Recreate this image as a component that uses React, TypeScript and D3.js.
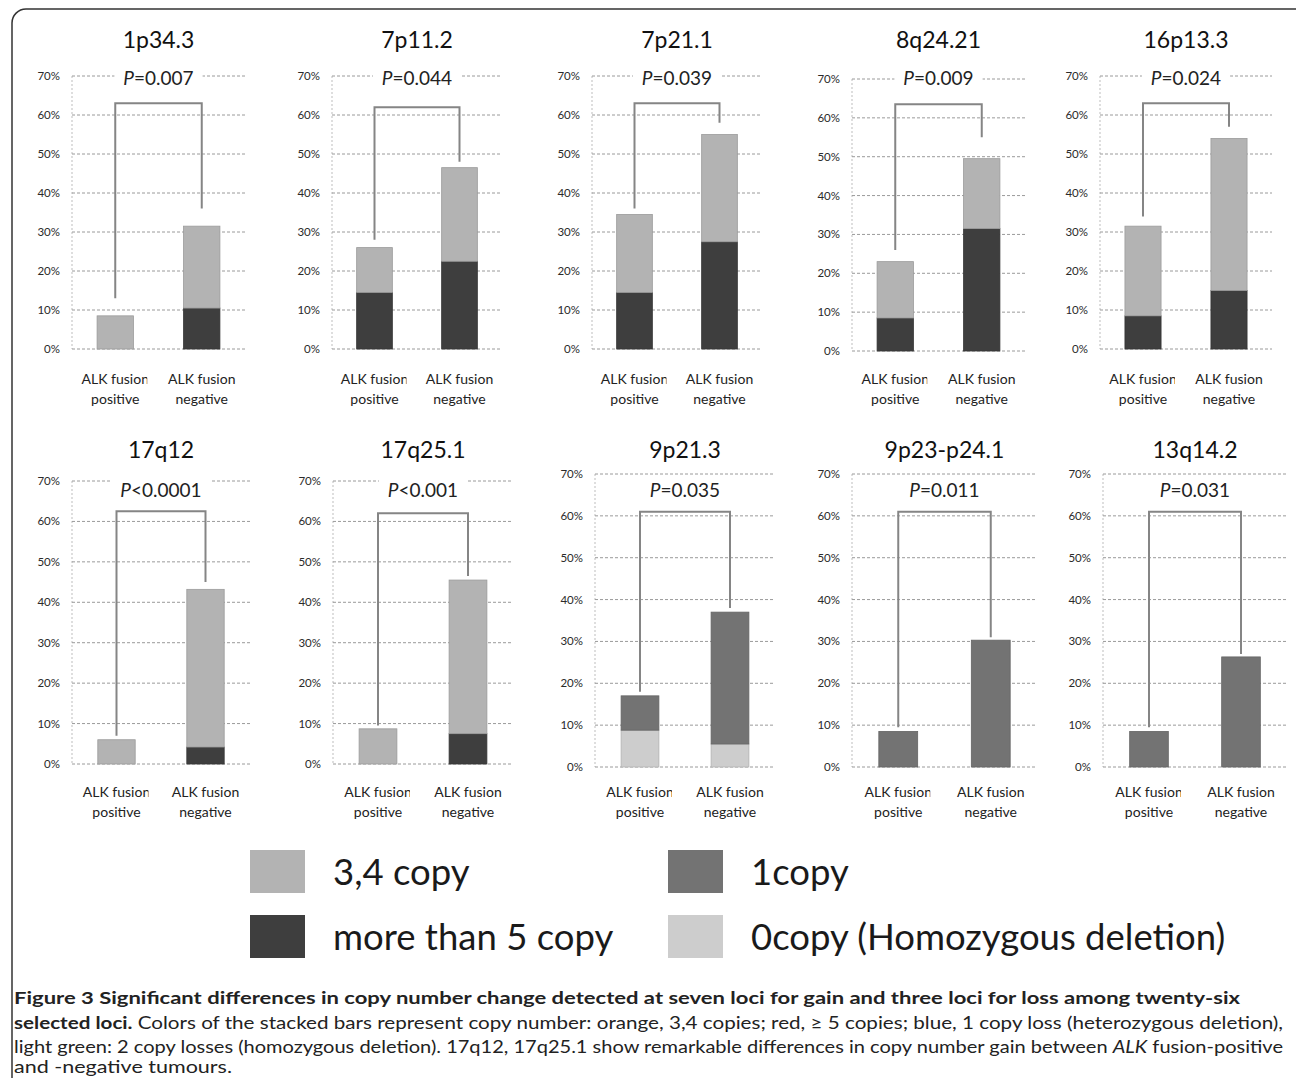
import React from 'react';
import * as d3 from 'd3';

// loci (panel titles) and P values
const loci = ['1p34.3', '7p11.2', '7p21.1', '8q24.21', '16p13.3', '17q12', '17q25.1', '9p21.3', '9p23-p24.1', '13q14.2'];
const pLabels = ['=0.007', '=0.044', '=0.039', '=0.009', '=0.024', '<0.0001', '<0.001', '=0.035', '=0.011', '=0.031'];
const groups = ['positive', 'negative'];
const groupLine1 = ['ALK fusion', 'ALK fusion'];
const yTicks = [0, 10, 20, 30, 40, 50, 60, 70];

// percent of cases per locus
const copy5Pos = [0, 14.5, 14.5, 8.5, 8.5, 0, 0, 0, 0, 0];
const copy5Neg = [10.5, 22.5, 27.5, 31.5, 15, 4.2, 7.5, 0, 0, 0];
const copy34Pos = [8.5, 11.5, 20, 14.5, 23, 6, 8.7, 0, 0, 0];
const copy34Neg = [21, 24, 27.5, 18, 39, 39, 38, 0, 0, 0];
const copy1Pos = [0, 0, 0, 0, 0, 0, 0, 8.2, 8.5, 8.5];
const copy1Neg = [0, 0, 0, 0, 0, 0, 0, 31.5, 30.3, 26.3];
const copy0Pos = [0, 0, 0, 0, 0, 0, 0, 8.8, 0, 0];
const copy0Neg = [0, 0, 0, 0, 0, 0, 0, 5.5, 0, 0];

// significance bracket (left foot, top, right foot) in %
const bracketLeft = [13, 28, 36, 26, 34, 7, 9.5, 18, 9.5, 9.5];
const bracketTop = [63, 62, 63, 63.5, 63, 62.5, 62, 61, 61, 61];
const bracketRight = [36, 48, 58, 55, 57, 45, 46.5, 38, 31, 27];

const legendKeys = ['copy34', 'copy1', 'copy5', 'copy0'];
const legendLabels = ['3,4 copy', '1copy', 'more than 5 copy', '0copy (Homozygous deletion)'];

const colors: Record<string, string> = {
  copy0: '#cdcdcd',
  copy5: '#3e3e3e',
  copy1: '#737373',
  copy34: '#b3b3b3',
};

// panel layout (pixels)
const plotLeft = [72, 332, 592, 852, 1100, 72, 333, 595, 852, 1103];
const plotRight = [245, 502, 762, 1025, 1272, 250, 513, 775, 1037, 1287];
const plotBottom = [349, 349, 349, 351, 349, 764, 764, 767, 767, 767];
const plotTop = [76, 76, 76, 79, 76, 481, 481, 474, 474, 474];

const chartFont = "Lato, 'Open Sans', sans-serif";
const captionFont = "'Liberation Sans Narrow', Lato, sans-serif";

function Panel({ i }: { i: number }) {
  const L = plotLeft[i];
  const R = plotRight[i];
  const top = i < 5;
  const x = d3.scaleBand().domain(groups).range([L, R]).paddingInner(0.58).paddingOuter(0.29);
  const y = d3.scaleLinear().domain([0, 70]).range([plotBottom[i], plotTop[i]]);
  const rows = [
    { group: 'positive', copy0: copy0Pos[i], copy5: copy5Pos[i], copy1: copy1Pos[i], copy34: copy34Pos[i] },
    { group: 'negative', copy0: copy0Neg[i], copy5: copy5Neg[i], copy1: copy1Neg[i], copy34: copy34Neg[i] },
  ];
  const series = d3.stack<any>().keys(['copy0', 'copy5', 'copy1', 'copy34'])(rows);
  const cx = (g: string) => (x(g) as number) + x.bandwidth() / 2;
  const mid = (L + R) / 2;
  const titleY = top ? 48 : 458;
  const pY = top ? 85 : 497;
  const catY = top ? 384 : 797;
  const pText = 'P' + pLabels[i];
  const pW = pText.length * 10.6 + 14;
  const bracket = d3.line()([
    [cx('positive'), y(bracketLeft[i])],
    [cx('positive'), y(bracketTop[i])],
    [cx('negative'), y(bracketTop[i])],
    [cx('negative'), y(bracketRight[i])],
  ]);
  const clipId = 'clip' + i;
  const clipRight = cx('positive') + 32;
  return (
    <g fontFamily={chartFont}>
      <defs>
        <clipPath id={clipId}>
          <rect x={L - 30} y={catY - 20} width={clipRight - L + 30} height={50} />
        </clipPath>
      </defs>
      <line x1={L} x2={L} y1={y(70)} y2={y(0)} stroke="#bdbdbd" strokeDasharray="2 2" />
      {yTicks.map((t) => (
        <g key={t}>
          <line x1={L} x2={R} y1={y(t)} y2={y(t)} stroke="#9a9a9a" strokeDasharray="3 2" strokeWidth={1} />
          <text x={L - 12} y={y(t) + 4} textAnchor="end" fontSize={11.5} fill="#2a2a2a">{t}%</text>
        </g>
      ))}
      {series.map((s) =>
        s.map((d, j) =>
          d[1] > d[0] ? (
            <rect
              key={s.key + j}
              x={x(groups[j])}
              width={x.bandwidth()}
              y={y(d[1])}
              height={y(d[0]) - y(d[1])}
              fill={colors[s.key]}
              stroke={d3.color(colors[s.key])!.darker(0.4).toString()}
              strokeWidth={0.8}
            />
          ) : null
        )
      )}
      <path d={bracket as string} fill="none" stroke="#858585" strokeWidth={2} />
      <rect x={mid - pW / 2} y={pY - 19} width={pW} height={24} fill="#fff" />
      <text x={mid} y={pY} textAnchor="middle" fontSize={19} fill="#222">
        <tspan fontStyle="italic">P</tspan>{pLabels[i]}
      </text>
      <text x={mid} y={titleY} textAnchor="middle" fontSize={23} fill="#111">{loci[i]}</text>
      {groups.map((g, j) => (
        <g key={g}>
          <text
            x={cx(g)}
            y={catY}
            textAnchor="middle"
            fontSize={14}
            fill="#222"
            clipPath={j === 0 ? `url(#${clipId})` : undefined}
          >
            {groupLine1[j]}
          </text>
          <text x={cx(g)} y={catY + 20} textAnchor="middle" fontSize={14} fill="#222">{g}</text>
        </g>
      ))}
    </g>
  );
}

export default function App() {
  const legendX = [250, 668, 250, 668];
  const legendY = [850, 850, 915, 915];
  return (
    <svg
      width={1296}
      height={1078}
      style={{ position: 'absolute', left: 0, top: 0, background: '#fff' }}
      xmlns="http://www.w3.org/2000/svg"
    >
      <rect x={12} y={9} width={1320} height={1100} rx={14} fill="#fff" stroke="#333" strokeWidth={1.5} />
      {loci.map((_, i) => (
        <Panel key={i} i={i} />
      ))}
      <g fontFamily={chartFont}>
        {legendKeys.map((k, i) => (
          <g key={k}>
            <rect x={legendX[i]} y={legendY[i]} width={55} height={43} fill={colors[k]} />
            <text x={legendX[i] + 83} y={legendY[i] + 35} fontSize={36.5} fill="#1a1a1a">{legendLabels[i]}</text>
          </g>
        ))}
      </g>
      <g fontFamily={captionFont} fontSize={17} fill="#222">
        <text x={14} y={1004} fontWeight="bold" textLength={1226} lengthAdjust="spacingAndGlyphs">
          Figure 3 Significant differences in copy number change detected at seven loci for gain and three loci for loss among twenty-six
        </text>
        <text x={14} y={1029} textLength={1269} lengthAdjust="spacingAndGlyphs">
          <tspan fontWeight="bold">selected loci.</tspan> Colors of the stacked bars represent copy number: orange, 3,4 copies; red, ≥ 5 copies; blue, 1 copy loss (heterozygous deletion),
        </text>
        <text x={14} y={1053} textLength={1269} lengthAdjust="spacingAndGlyphs">
          light green: 2 copy losses (homozygous deletion). 17q12, 17q25.1 show remarkable differences in copy number gain between <tspan fontStyle="italic">ALK</tspan> fusion-positive
        </text>
        <text x={14} y={1073} textLength={218} lengthAdjust="spacingAndGlyphs">
          and -negative tumours.
        </text>
      </g>
    </svg>
  );
}
